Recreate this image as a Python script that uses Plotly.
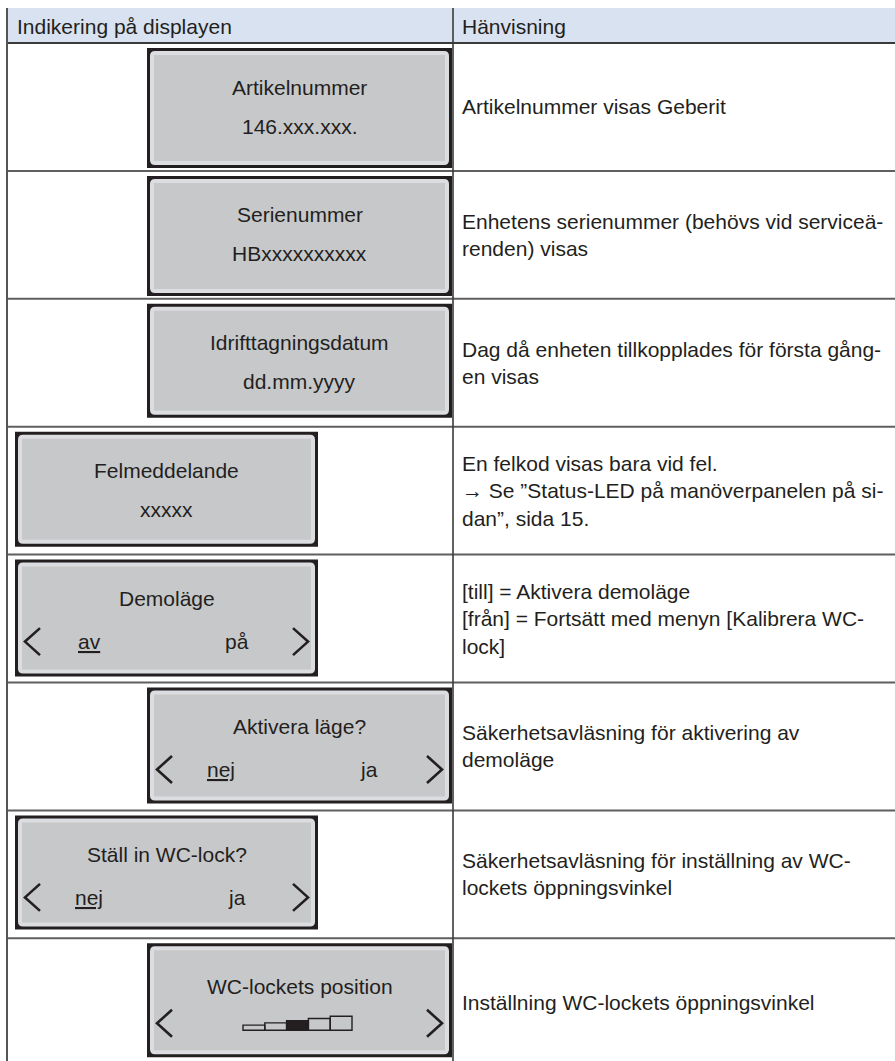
import plotly.graph_objects as go

# ---------------- data ----------------
header_labels = ["Indikering på displayen", "Hänvisning"]
display_titles = ["Artikelnummer", "Serienummer", "Idrifttagningsdatum", "Felmeddelande",
                  "Demoläge", "Aktivera läge?", "Ställ in WC-lock?", "WC-lockets position"]
display_values = ["146.xxx.xxx.", "HBxxxxxxxxxx", "dd.mm.yyyy", "xxxxx", "", "", "", ""]
option_left = ["", "", "", "", "av", "nej", "nej", ""]
option_right = ["", "", "", "", "på", "ja", "ja", ""]
display_kind = ["value", "value", "value", "value", "choice", "choice", "choice", "position"]
box_side = ["right", "right", "right", "left", "left", "right", "left", "right"]
reference_texts = [
    "Artikelnummer visas Geberit",
    "Enhetens serienummer (behövs vid serviceä-<br>renden) visas",
    "Dag då enheten tillkopplades för första gång-<br>en visas",
    "En felkod visas bara vid fel.<br>→ Se ”Status-LED på manöverpanelen på si-<br>dan”, sida 15.",
    "[till] = Aktivera demoläge<br>[från] = Fortsätt med menyn [Kalibrera WC-<br>lock]",
    "Säkerhetsavläsning för aktivering av<br>demoläge",
    "Säkerhetsavläsning för inställning av WC-<br>lockets öppningsvinkel",
    "Inställning WC-lockets öppningsvinkel",
]
position_steps = [1, 2, 3, 4, 5]      # lid-position bar icon steps
position_active = 3                   # highlighted step

# ---------------- layout constants ----------------
W, H = 895, 1061
FONT = "Liberation Sans, Arial, Helvetica, sans-serif"
FS = 21.0
TXT = "#231f20"
HEAD_TOP, HEAD_BOT = 8, 43
ROW_H = 127.9
COL_X = 453
LEFT_X = 7
TEXT_L = 15
TEXT_R = 460
BOX_X = {"right": (147, 452), "left": (15, 318)}
BOX_H = [120, 120, 114, 115, 117, 116, 114, 114]

shapes = []
ann = []


def rect(x0, y0, x1, y1, fill, line_w=0, line_c=None):
    shapes.append(dict(type="rect", xref="x", yref="y", x0=x0, y0=y0, x1=x1, y1=y1,
                       fillcolor=fill, line=dict(width=line_w, color=line_c or fill), layer="above"))


def rounded(x0, y0, x1, y1, r, fill):
    p = (f"M {x0+r},{y0} L {x1-r},{y0} Q {x1},{y0} {x1},{y0+r} L {x1},{y1-r} "
         f"Q {x1},{y1} {x1-r},{y1} L {x0+r},{y1} Q {x0},{y1} {x0},{y1-r} "
         f"L {x0},{y0+r} Q {x0},{y0} {x0+r},{y0} Z")
    shapes.append(dict(type="path", path=p, xref="x", yref="y", fillcolor=fill,
                       line=dict(width=0), layer="above"))


def line(x0, y0, x1, y1, w, c):
    shapes.append(dict(type="line", xref="x", yref="y", x0=x0, y0=y0, x1=x1, y1=y1,
                       line=dict(width=w, color=c), layer="above"))


def text(x, y, s, anchor="left", size=FS):
    ann.append(dict(x=x, y=y, xref="x", yref="y", text=s, showarrow=False,
                    xanchor=anchor, yanchor="middle", align="left",
                    font=dict(family=FONT, size=size, color=TXT)))


def chevron(xt, y, direction, w=15, h=13.5):
    xa = xt + w if direction == "left" else xt - w
    p = f"M {xa},{y-h} L {xt},{y} L {xa},{y+h}"
    shapes.append(dict(type="path", path=p, xref="x", yref="y",
                       line=dict(width=2.6, color=TXT), layer="above"))


# header
rect(LEFT_X, HEAD_TOP, W + 5, HEAD_BOT, "#d9e2f1")
line(LEFT_X, HEAD_BOT, W + 5, HEAD_BOT, 2, "#3a3a3a")
text(TEXT_L, (HEAD_TOP + HEAD_BOT) / 2 + 1, header_labels[0])
text(TEXT_R, (HEAD_TOP + HEAD_BOT) / 2 + 1, header_labels[1])

# rows
for i in range(len(display_titles)):
    top = HEAD_BOT + i * ROW_H
    bot = top + ROW_H
    if i < len(display_titles) - 1:
        line(LEFT_X, bot, W + 5, bot, 2, "#5f5f5f")
    # display box
    bx0, bx1 = BOX_X[box_side[i]]
    by0 = top + 5
    by1 = by0 + BOX_H[i]
    rect(bx0, by0, bx1, by1, "#231f20")
    rounded(bx0 + 3, by0 + 3, bx1 - 3, by1 - 3, 5, "#dcdde0")
    rect(bx0 + 7, by0 + 7, bx1 - 7, by1 - 7, "#c7c8ca")
    cx = (bx0 + bx1) / 2
    kind = display_kind[i]
    if kind == "value":
        text(cx, by0 + 39, display_titles[i], "center")
        text(cx, by0 + 78, display_values[i], "center")
    elif kind == "choice":
        text(cx, by0 + 39, display_titles[i], "center")
        oy = by0 + 82
        text(bx0 + 74, oy, f"<u>{option_left[i]}</u>", "center")
        text(bx0 + 222, oy, option_right[i], "center")
        chevron(bx0 + 10, oy, "left")
        chevron(bx1 - 10, oy, "right")
    else:
        text(cx, by0 + 43, display_titles[i], "center")
        oy = by0 + 80
        chevron(bx0 + 10, oy, "left")
        chevron(bx1 - 10, oy, "right")
        sx = bx0 + 96
        bw = 21.8
        base = oy + 7
        for k, s in enumerate(position_steps):
            hgt = 3 + 2.2 * s
            fill = "#231f20" if s == position_active else "rgba(0,0,0,0)"
            shapes.append(dict(type="rect", xref="x", yref="y",
                               x0=sx + k * bw, x1=sx + (k + 1) * bw,
                               y0=base - hgt, y1=base, fillcolor=fill,
                               line=dict(width=1.4, color=TXT), layer="above"))
    # reference text
    text(TEXT_R, (top + bot) / 2, reference_texts[i])

# vertical borders
line(LEFT_X, HEAD_TOP, LEFT_X, H + 5, 2, "#555555")
line(COL_X, HEAD_TOP, COL_X, H + 5, 1.6, "#3a3a3a")

fig = go.Figure()
fig.add_trace(go.Scatter(x=[0, W], y=[0, H], mode="markers",
                         marker=dict(opacity=0), hoverinfo="skip", showlegend=False))
fig.update_layout(
    width=W, height=H, margin=dict(l=0, r=0, t=0, b=0),
    paper_bgcolor="white", plot_bgcolor="white",
    xaxis=dict(range=[0, W], visible=False, fixedrange=True),
    yaxis=dict(range=[H, 0], visible=False, fixedrange=True),
    shapes=shapes, annotations=ann, showlegend=False,
)
fig.write_html("out.html", config={"displayModeBar": False},
               post_script="document.body.style.margin='0';document.body.style.overflow='hidden';")
